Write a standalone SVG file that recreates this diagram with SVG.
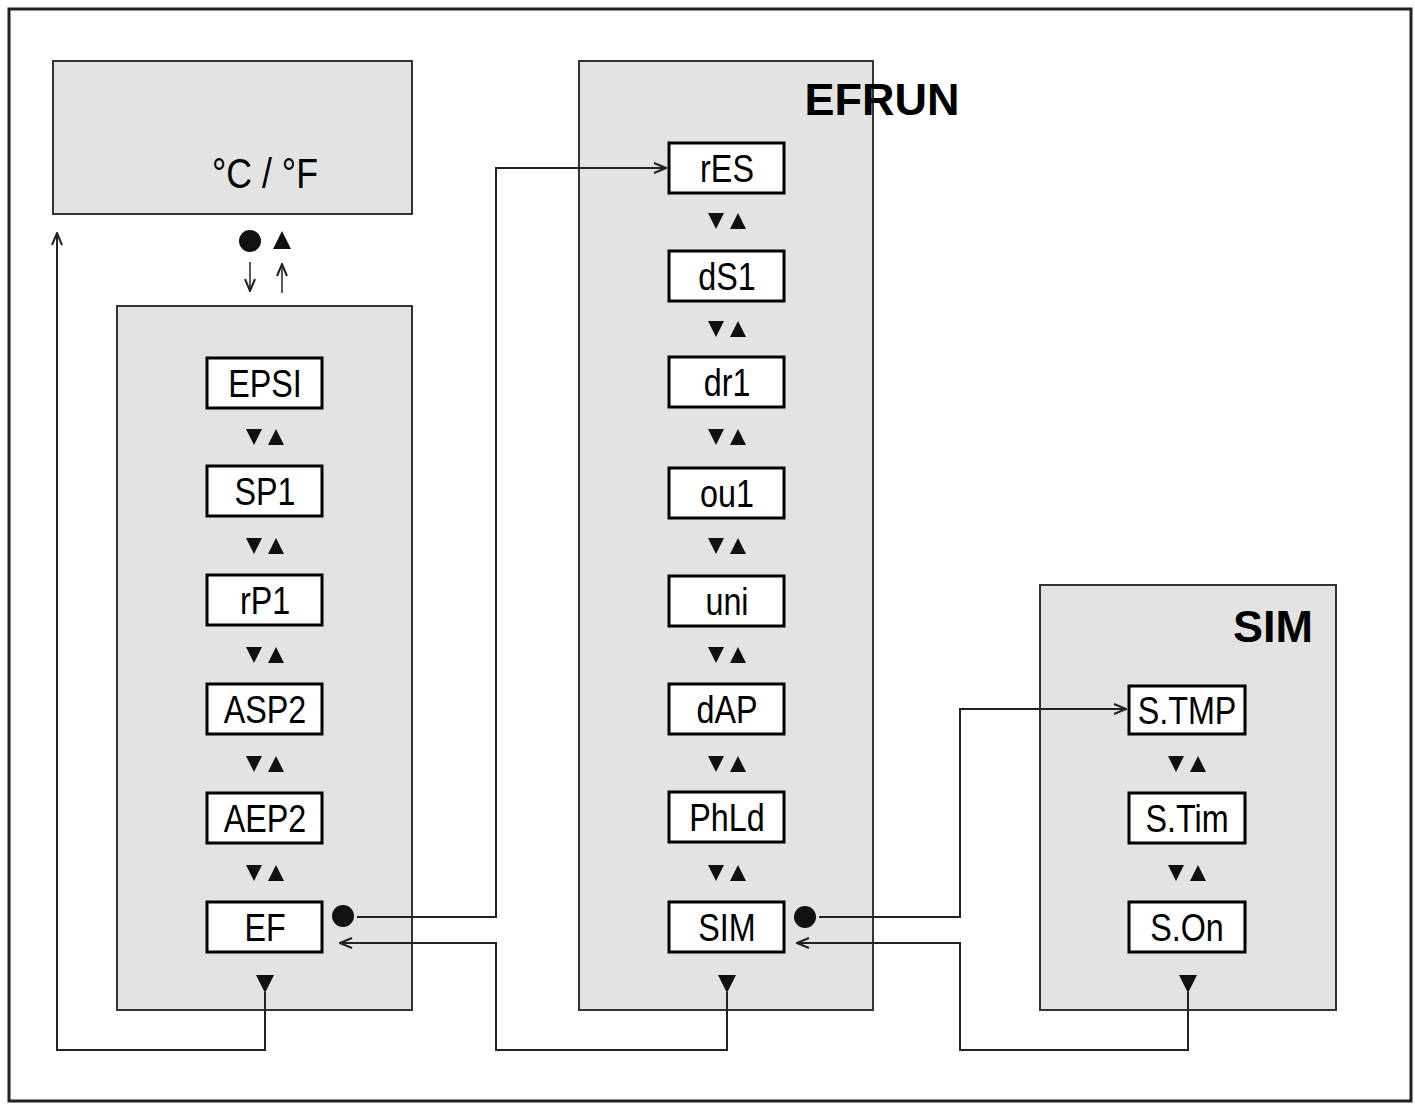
<svg xmlns="http://www.w3.org/2000/svg" width="1415" height="1104" viewBox="0 0 1415 1104">
<style>
.panel{fill:#e3e3e3;stroke:#333;stroke-width:2}
.box{fill:#fff;stroke:#000;stroke-width:3}
.t{font-family:"Liberation Sans",Arial,sans-serif;font-size:38px;text-anchor:middle;fill:#000}
.h{font-family:"Liberation Sans",Arial,sans-serif;font-size:45px;font-weight:bold;text-anchor:middle;fill:#000}
.ln{fill:none;stroke:#222;stroke-width:2}
</style>
<defs>
<marker id="a" markerWidth="14" markerHeight="12" refX="13" refY="6" orient="auto" markerUnits="userSpaceOnUse"><path d="M1,1 L13,6 L1,11" fill="none" stroke="#222" stroke-width="2"/></marker>
<g id="ud"><polygon points="-19,-8 -3,-8 -11,8" fill="#111"/><polygon points="3,8 19,8 11,-8" fill="#111"/></g>
<polygon id="dn" points="-9,-9 9,-9 0,9" fill="#111"/>
</defs>
<rect x="9" y="9" width="1402" height="1092" fill="#fff" stroke="#222" stroke-width="3"/>
<g id="unit"><rect class="panel" x="53" y="61" width="359" height="153"/><text class="t" transform="translate(265,188) scale(0.85,1)" style="font-size:42px">°C / °F</text></g>
<g id="p1"><rect class="panel" x="117" y="306" width="295" height="704"/></g>
<g id="p2"><rect class="panel" x="579" y="61" width="294" height="949"/><text class="h" x="882" y="115">EFRUN</text></g>
<g id="p3"><rect class="panel" x="1040" y="585" width="296" height="425"/><text class="h" x="1273" y="642">SIM</text></g>
<g id="nodes1">
<g id="n-EPSI"><rect class="box" x="207" y="358" width="115" height="50"/><text class="t" transform="translate(265,397) scale(0.85,1)">EPSI</text></g>
<g id="n-SP1"><rect class="box" x="207" y="466" width="115" height="50"/><text class="t" transform="translate(265,505) scale(0.85,1)">SP1</text></g>
<g id="n-rP1"><rect class="box" x="207" y="575" width="115" height="50"/><text class="t" transform="translate(265,614) scale(0.85,1)">rP1</text></g>
<g id="n-ASP2"><rect class="box" x="207" y="684" width="115" height="50"/><text class="t" transform="translate(265,723) scale(0.85,1)">ASP2</text></g>
<g id="n-AEP2"><rect class="box" x="207" y="793" width="115" height="50"/><text class="t" transform="translate(265,832) scale(0.85,1)">AEP2</text></g>
<g id="n-EF"><rect class="box" x="207" y="902" width="115" height="50"/><text class="t" transform="translate(265,941) scale(0.85,1)">EF</text></g>
</g>
<g id="nodes2">
<g id="n-rES"><rect class="box" x="669" y="143" width="115" height="50"/><text class="t" transform="translate(727,182) scale(0.85,1)">rES</text></g>
<g id="n-dS1"><rect class="box" x="669" y="251" width="115" height="50"/><text class="t" transform="translate(727,290) scale(0.85,1)">dS1</text></g>
<g id="n-dr1"><rect class="box" x="669" y="357" width="115" height="50"/><text class="t" transform="translate(727,396) scale(0.85,1)">dr1</text></g>
<g id="n-ou1"><rect class="box" x="669" y="468" width="115" height="50"/><text class="t" transform="translate(727,507) scale(0.85,1)">ou1</text></g>
<g id="n-uni"><rect class="box" x="669" y="576" width="115" height="50"/><text class="t" transform="translate(727,615) scale(0.85,1)">uni</text></g>
<g id="n-dAP"><rect class="box" x="669" y="684" width="115" height="50"/><text class="t" transform="translate(727,723) scale(0.85,1)">dAP</text></g>
<g id="n-PhLd"><rect class="box" x="669" y="792" width="115" height="50"/><text class="t" transform="translate(727,831) scale(0.85,1)">PhLd</text></g>
<g id="n-SIM"><rect class="box" x="669" y="902" width="115" height="50"/><text class="t" transform="translate(727,941) scale(0.85,1)">SIM</text></g>
</g>
<g id="nodes3">
<g id="n-STMP"><rect class="box" x="1129" y="686" width="116" height="48"/><text class="t" transform="translate(1187,724) scale(0.85,1)">S.TMP</text></g>
<g id="n-STim"><rect class="box" x="1129" y="793" width="116" height="50"/><text class="t" transform="translate(1187,832) scale(0.85,1)">S.Tim</text></g>
<g id="n-SOn"><rect class="box" x="1129" y="902" width="116" height="50"/><text class="t" transform="translate(1187,941) scale(0.85,1)">S.On</text></g>
</g>
<g id="symbols">
<use href="#ud" x="265" y="437"/><use href="#ud" x="265" y="546"/><use href="#ud" x="265" y="655"/><use href="#ud" x="265" y="764"/><use href="#ud" x="265" y="873"/>
<use href="#ud" x="727" y="221"/><use href="#ud" x="727" y="329"/><use href="#ud" x="727" y="437"/><use href="#ud" x="727" y="546"/><use href="#ud" x="727" y="655"/><use href="#ud" x="727" y="764"/><use href="#ud" x="727" y="873"/>
<use href="#ud" x="1187" y="764"/><use href="#ud" x="1187" y="873"/>
<use href="#dn" x="265" y="984"/><use href="#dn" x="727" y="984"/><use href="#dn" x="1188" y="984"/>
<circle cx="250" cy="241" r="11" fill="#111"/><polygon points="273,249 291,249 282,231" fill="#111"/>
<circle cx="343" cy="916" r="11" fill="#111"/><circle cx="805" cy="917" r="11" fill="#111"/>
</g>
<g id="connectors">
<path class="ln" d="M250,262 V291" marker-end="url(#a)" style="stroke-width:1.5"/>
<path class="ln" d="M282,293 V264" marker-end="url(#a)" style="stroke-width:1.5"/>
<path class="ln" d="M357,917 H496 V168 H666" marker-end="url(#a)"/>
<path class="ln" d="M727,992 V1050 H496 V943 H340" marker-end="url(#a)"/>
<path class="ln" d="M265,992 V1050 H57 V233" marker-end="url(#a)"/>
<path class="ln" d="M819,917 H960 V709 H1126" marker-end="url(#a)"/>
<path class="ln" d="M1188,992 V1050 H960 V943 H797" marker-end="url(#a)"/>
</g>
</svg>
